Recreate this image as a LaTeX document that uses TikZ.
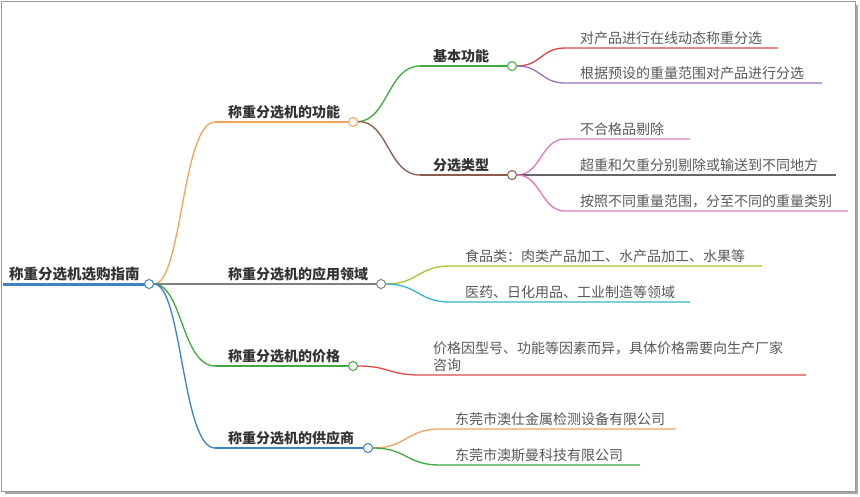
\documentclass[tikz,border=0pt]{standalone}
\usepackage{fontspec}
\setmainfont{Noto Sans CJK SC}
\begin{document}
\begin{tikzpicture}[x=1pt,y=-1pt,
  lf/.style={font=\fontsize{14}{17}\selectfont, text=black!65, anchor=south west, inner sep=1pt},
  br/.style={font=\bfseries\fontsize{14}{17}\selectfont, text=black!80, anchor=south west, inner sep=1pt},
  dot/.style={circle, draw=#1, fill=white, line width=1pt, inner sep=0pt, minimum size=9pt},
  cv/.style={line width=1.3pt, draw=#1}]
\useasboundingbox (0,0) rectangle (860,496);
\fill[white] (0,0) rectangle (860,496);
\fill[black!35] (5,5) rectangle (858,494);
\fill[white] (1,1) rectangle (855,491);
\draw[black!40] (1,1) rectangle (855,491);
\definecolor{cor}{HTML}{F5A25D}\definecolor{cgy}{HTML}{7F7F7F}
\definecolor{cgr}{HTML}{3DAA3D}\definecolor{cbl}{HTML}{3C82C4}
\definecolor{cbr}{HTML}{8B5A4A}\definecolor{cre}{HTML}{E04848}
\definecolor{cpu}{HTML}{9A6FC0}\definecolor{cpk}{HTML}{E07AC0}
\definecolor{col}{HTML}{B5C12A}\definecolor{ccy}{HTML}{2FB8C8}
\definecolor{cdg}{HTML}{666666}
% root
\coordinate (r0) at (3,284);
\node[br, font=\bfseries\fontsize{14.5}{17}\selectfont] (rt) at (8,282) {称重分选机选购指南};
\draw[cbl, line width=3pt] (r0) -- (146,284);
\node[dot=cbl] (R) at (149,284) {};
% level 1
\newcommand\lone[6]{%
 \coordinate (#1s) at (#3,#4);
 \node[br] (#1t) at (#3+12,#4-2) {#6};
 \draw[cv=#2] (#1s) -- (#5-4,#4);
 \node[dot=#2] (#1) at (#5,#4) {};
}
\lone{A}{cor}{215}{122}{353}{称重分选机的功能}
\lone{B}{cgy}{215}{284}{381}{称重分选机的应用领域}
\lone{C}{cgr}{215}{366}{353}{称重分选机的价格}
\lone{D}{cbl}{215}{448}{368}{称重分选机的供应商}
\draw[cv=cor] (R) .. controls (182,284) and (182,122) .. (As);
\draw[cv=cgy] (R) -- (Bs);
\draw[cv=cgr] (R) .. controls (182,284) and (182,366) .. (Cs);
\draw[cv=cbl] (R) .. controls (182,284) and (182,448) .. (Ds);
% level 2
\lone{A1}{cgr}{420}{66}{512}{基本功能}
\lone{A2}{cbr}{420}{175}{512}{分选类型}
\draw[cv=cgr] (A) .. controls (388,120) and (388,66) .. (A1s);
\draw[cv=cbr] (A) .. controls (388,120) and (388,175) .. (A2s);
% leaves
\newcommand\leaf[7]{%
 \coordinate (#1s) at (#4,#5);
 \coordinate (#1e) at (#6,#5);
 \node[lf] (#1t) at (#4+14,#5-2) {#7};
 \draw[cv=#3] (#2) .. controls ({(#4+\xp)/2},\yp) and ({(#4+\xp)/2},#5) .. (#1s) -- (#1e);
}
\def\xp{517}\def\yp{66}
\leaf{L1}{A1}{cre}{565}{48}{778}{对产品进行在线动态称重分选}
\leaf{L2}{A1}{cpu}{565}{83}{822}{根据预设的重量范围对产品进行分选}
\def\yp{175}
\leaf{L3}{A2}{cpk}{565}{139}{690}{不合格品剔除}
\leaf{L4}{A2}{cdg}{565}{175}{836}{超重和欠重分别剔除或输送到不同地方}
\leaf{L5}{A2}{cpk}{565}{211}{848}{按照不同重量范围，分至不同的重量类别}
\def\xp{386}\def\yp{284}
\leaf{L6}{B}{col}{450}{266}{762}{食品类：肉类产品加工、水产品加工、水果等}
\leaf{L7}{B}{ccy}{450}{302}{690}{医药、日化用品、工业制造等领域}
\def\xp{358}\def\yp{366}
\coordinate (L8s) at (420,375);\coordinate (L8e) at (806,375);
\node[lf, align=left] (L8t) at (432,373) {价格因型号、功能等因素而异，具体价格需要向生产厂家\\咨询};
\draw[cv=cre] (C) .. controls (389,366) and (389,375) .. (L8s) -- (L8e);
\def\xp{373}\def\yp{448}
\leaf{L9}{D}{cor}{440}{429}{676}{东莞市澳仕金属检测设备有限公司}
\leaf{L10}{D}{cgr}{440}{465}{640}{东莞市澳斯曼科技有限公司}
\end{tikzpicture}
\end{document}
